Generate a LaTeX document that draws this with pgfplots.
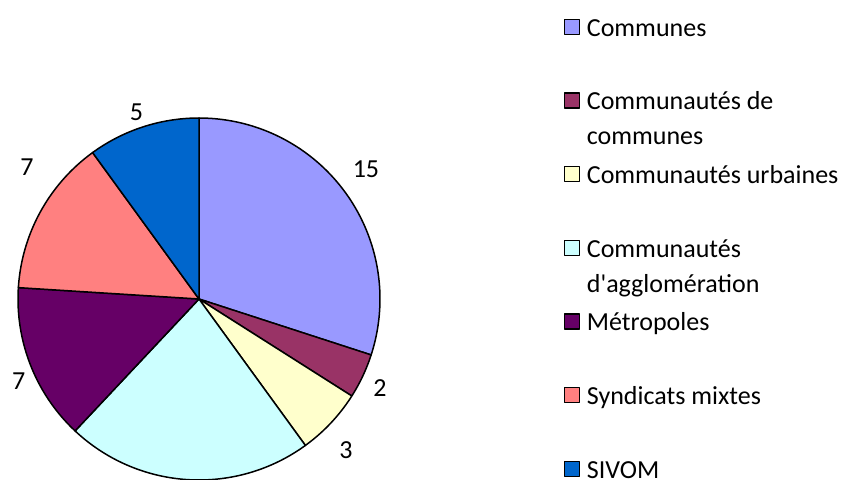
\documentclass[border=0pt]{standalone}
\usepackage{fontspec}
\setmainfont{Carlito}
\usepackage{pgfplots}
\usepackage{pgfplotstable}
\pgfplotsset{compat=1.18}
\definecolor{c0}{HTML}{9999FF}
\definecolor{c1}{HTML}{993366}
\definecolor{c2}{HTML}{FFFFCC}
\definecolor{c3}{HTML}{CCFFFF}
\definecolor{c4}{HTML}{660066}
\definecolor{c5}{HTML}{FF8080}
\definecolor{c6}{HTML}{0066CC}
% value, label angle (deg), label radius (pie radii), label shown
\pgfplotstableread{
value lang lrad show
15 37.9 1.169 1
2 -26.2 1.114 1
3 -45.8 1.164 1
11 0 0 0
7 204.4 1.094 1
7 142.5 1.198 1
5 108.5 1.088 1
}\piedata
\newcommand\lent[1]{\raisebox{0pt}[20pt][0pt]{\parbox[t]{262pt}{\raggedright #1}}}
\begin{document}
\begin{tikzpicture}
\path[use as bounding box] (0,0) rectangle (848pt,479pt);
\pgfplotstablegetrowsof{\piedata}
\pgfmathtruncatemacro\nrows{\pgfplotsretval-1}
\def\total{0}
\pgfplotsforeachungrouped \i in {0,...,\nrows}{%
  \pgfplotstablegetelem{\i}{value}\of\piedata
  \pgfmathsetmacro\total{\total+\pgfplotsretval}%
}
\begin{axis}[
  at={(18pt,-1pt)}, anchor=south west,
  scale only axis, width=362pt, height=362pt,
  xmin=-1, xmax=1, ymin=-1, ymax=1,
  hide axis, clip=false,
  legend image code/.code={\draw[#1,draw=black,line width=1.3pt] (0pt,2pt) rectangle (15pt,17pt);},
  legend style={draw=none, fill=none, at={(1.5066,1.2818)}, anchor=north west,
    inner sep=0pt, row sep=52.2pt, column sep=7pt, nodes={inner sep=0pt},
    cells={anchor=base west}, font=\fontsize{26}{35}\selectfont},
]
\def\a{90}
\pgfplotsforeachungrouped \i in {0,...,\nrows}{%
  \pgfplotstablegetelem{\i}{value}\of\piedata
  \let\val\pgfplotsretval
  \pgfmathsetmacro\b{\a-\val*360/\total}%
  \edef\temp{\noexpand\addplot[fill=c\i, draw=black, line width=1.5pt, line join=round,
     domain=\b:\a, samples=90, variable=\noexpand\t]
     ({cos(\noexpand\t)},{sin(\noexpand\t)}) -- (axis cs:0,0) -- cycle;}%
  \temp
  \pgfplotstablegetelem{\i}{show}\of\piedata
  \ifnum\pgfplotsretval=1
    \pgfplotstablegetelem{\i}{lang}\of\piedata \let\la\pgfplotsretval
    \pgfplotstablegetelem{\i}{lrad}\of\piedata \let\lr\pgfplotsretval
    \pgfmathsetmacro\lx{\lr*cos(\la)}%
    \pgfmathsetmacro\ly{\lr*sin(\la)}%
    \edef\temp{\noexpand\node[font=\noexpand\fontsize{26}{30}\noexpand\selectfont, inner sep=0pt] at (axis cs:\lx,\ly) {\val};}%
    \temp
  \fi
  \let\a\b
}
\legend{\lent{Communes}, \lent{Communautés de communes}, \lent{Communautés urbaines},
  \lent{Communautés d\textquotesingle agglomération}, \lent{Métropoles}, \lent{Syndicats mixtes}, \lent{SIVOM}}
\end{axis}
\end{tikzpicture}
\end{document}
